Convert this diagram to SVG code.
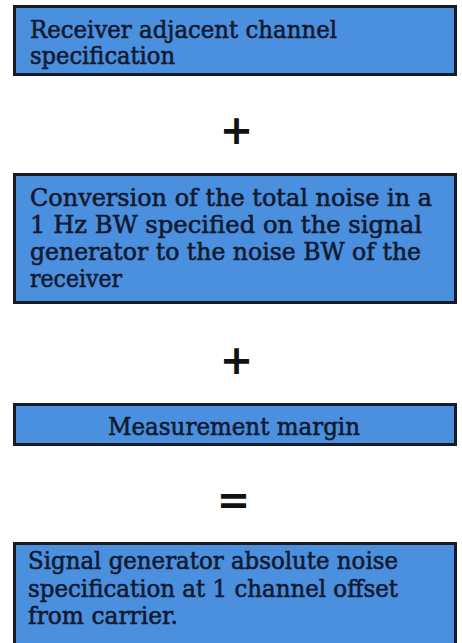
<svg xmlns="http://www.w3.org/2000/svg" width="462" height="643" viewBox="0 0 462 643">
<style>
.box{fill:#4b90df;stroke:#161b26;stroke-width:3}
.t{font-family:"DejaVu Serif","Liberation Serif",serif;font-size:24px;fill:#111a30;stroke:#111a30;stroke-width:0.6}
.op{font-family:"DejaVu Sans","Liberation Sans",sans-serif;font-size:40px;font-weight:bold;fill:#111;text-anchor:middle}
</style>
<rect width="462" height="643" fill="#ffffff"/>
<g id="node1">
<rect class="box" x="14.5" y="6.5" width="441" height="68"/>
<text class="t" x="30" y="38" textLength="307" lengthAdjust="spacingAndGlyphs">Receiver adjacent channel</text>
<text class="t" x="30" y="64" textLength="145" lengthAdjust="spacingAndGlyphs">specification</text>
</g>
<g id="op1"><text class="op" x="236.5" y="144">+</text></g>
<g id="node2">
<rect class="box" x="14.5" y="174.5" width="441" height="128"/>
<text class="t" x="30" y="206" textLength="402" lengthAdjust="spacingAndGlyphs">Conversion of the total noise in a</text>
<text class="t" x="30" y="233" textLength="392" lengthAdjust="spacingAndGlyphs">1 Hz BW specified on the signal</text>
<text class="t" x="30" y="260" textLength="391" lengthAdjust="spacingAndGlyphs">generator to the noise BW of the</text>
<text class="t" x="30" y="287" textLength="92" lengthAdjust="spacingAndGlyphs">receiver</text>
</g>
<g id="op2"><text class="op" x="236.5" y="374">+</text></g>
<g id="node3">
<rect class="box" x="14.5" y="404.5" width="441" height="40"/>
<text class="t" x="108" y="435" textLength="252" lengthAdjust="spacingAndGlyphs">Measurement margin</text>
</g>
<g id="op3"><text class="op" x="233.5" y="514">=</text></g>
<g id="node4">
<rect class="box" x="14.5" y="543.5" width="441" height="104"/>
<text class="t" x="28" y="569" textLength="370" lengthAdjust="spacingAndGlyphs">Signal generator absolute noise</text>
<text class="t" x="28" y="597" textLength="370" lengthAdjust="spacingAndGlyphs">specification at 1 channel offset</text>
<text class="t" x="28" y="624" textLength="150" lengthAdjust="spacingAndGlyphs">from carrier.</text>
</g>
<g id="connectors"></g>
</svg>
